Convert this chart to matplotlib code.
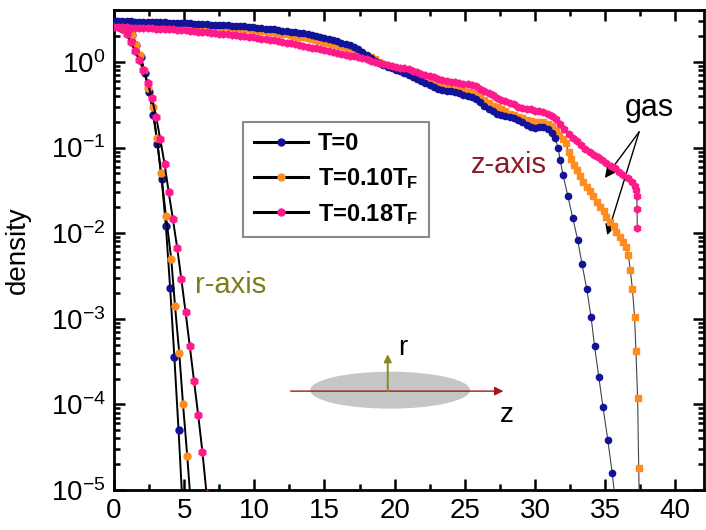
import numpy as np
import matplotlib
matplotlib.use("Agg")
import matplotlib.pyplot as plt
from matplotlib.lines import Line2D
from matplotlib.patches import Ellipse
from matplotlib.ticker import LogLocator, MultipleLocator, NullFormatter

plt.rcParams['font.family'] = ['Liberation Sans', 'DejaVu Sans']
plt.rcParams['mathtext.fontset'] = 'custom'
plt.rcParams['mathtext.rm'] = 'Liberation Sans'
plt.rcParams['mathtext.it'] = 'Liberation Sans:italic'
plt.rcParams['mathtext.bf'] = 'Liberation Sans:bold'

BLUE = "#13139a"
ORANGE = "#ff8c1e"
PINK = "#ff1a8c"

# === z-axis profiles: body on a 0.3 grid, then the tail points ===
z_body = np.round(np.arange(105) * 0.3, 1)

blue_body = [
    3.02, 3.01, 3.0, 2.99, 2.98, 2.97, 2.96, 2.95, 2.94, 2.93, 2.92,
    2.91, 2.9, 2.89, 2.88, 2.87, 2.86, 2.84, 2.83, 2.81, 2.79,
    2.77, 2.76, 2.74, 2.73, 2.71, 2.7, 2.68, 2.66, 2.64, 2.62,
    2.6, 2.58, 2.55, 2.52, 2.49, 2.46, 2.43, 2.4, 2.36, 2.33,
    2.3, 2.27, 2.24, 2.2, 2.16, 2.12, 2.07, 2.02, 1.97, 1.92,
    1.86, 1.8, 1.74, 1.68, 1.62, 1.56, 1.48, 1.4, 1.3, 1.2,
    1.12, 1.04, 0.97, 0.92, 0.88, 0.85, 0.81, 0.78, 0.75, 0.71,
    0.67, 0.64, 0.6, 0.57, 0.54, 0.51, 0.49, 0.47, 0.46, 0.455,
    0.45, 0.43, 0.41, 0.4, 0.385, 0.365, 0.34, 0.31, 0.285, 0.265,
    0.25, 0.24, 0.235, 0.23, 0.22, 0.21, 0.2, 0.185, 0.175, 0.17,
    0.172, 0.175, 0.165, 0.148]
blue_tail_z = [31.45, 31.65, 31.8, 32.0, 32.35, 32.7, 33.05, 33.35, 33.7, 34.0,
               34.25, 34.55, 34.85, 35.2, 35.5, 35.8]
blue_tail = [0.13, 0.099, 0.072, 0.048, 0.027, 0.015, 0.0083, 0.0044, 0.0022, 0.00105,
             0.00048, 0.00021, 9.3e-5, 3.8e-5, 1.6e-5, 6e-6]

orange_body = [
    2.92, 2.92, 2.91, 2.9, 2.9, 2.89, 2.88, 2.87, 2.86, 2.85, 2.84,
    2.83, 2.82, 2.81, 2.8, 2.78, 2.77, 2.76, 2.74, 2.72, 2.7,
    2.68, 2.66, 2.64, 2.62, 2.6, 2.58, 2.56, 2.54, 2.51, 2.48,
    2.45, 2.42, 2.39, 2.36, 2.33, 2.29, 2.26, 2.22, 2.18, 2.14,
    2.1, 2.06, 2.02, 1.98, 1.94, 1.9, 1.86, 1.82, 1.77, 1.72,
    1.67, 1.62, 1.57, 1.52, 1.47, 1.42, 1.37, 1.31, 1.25, 1.19,
    1.13, 1.07, 1.01, 0.96, 0.91, 0.87, 0.84, 0.8, 0.77, 0.74,
    0.71, 0.68, 0.65, 0.62, 0.6, 0.58, 0.56, 0.54, 0.52, 0.505,
    0.49, 0.48, 0.46, 0.45, 0.43, 0.41, 0.39, 0.36, 0.335, 0.31,
    0.295, 0.28, 0.265, 0.25, 0.24, 0.23, 0.22, 0.21, 0.205, 0.2,
    0.2, 0.198, 0.19, 0.178]
orange_tail_z = [31.5, 31.75, 32.0, 32.2, 32.4, 32.55, 32.75, 33.0, 33.2, 33.45,
                 33.7, 33.9, 34.15, 34.4, 34.65, 34.9, 35.1, 35.35, 35.6, 35.8,
                 36.05, 36.3, 36.5, 36.65, 36.8, 36.95, 37.1, 37.2, 37.32, 37.4,
                 37.45]
orange_tail = [0.162, 0.14, 0.125, 0.112, 0.089, 0.074, 0.063, 0.055, 0.046, 0.040,
               0.035, 0.031, 0.027, 0.023, 0.020, 0.018, 0.0155, 0.0136, 0.012, 0.0104,
               0.009, 0.0079, 0.0069, 0.0056, 0.0037, 0.0022, 0.00106, 0.00042, 0.000118, 1.8e-5,
               5e-6]

pink_body = [
    2.55, 2.55, 2.54, 2.53, 2.52, 2.51, 2.5, 2.49, 2.48, 2.47, 2.46,
    2.44, 2.43, 2.41, 2.4, 2.38, 2.36, 2.34, 2.32, 2.3, 2.27,
    2.25, 2.23, 2.2, 2.18, 2.15, 2.13, 2.1, 2.08, 2.05, 2.02,
    2.0, 1.97, 1.94, 1.91, 1.88, 1.85, 1.82, 1.79, 1.75, 1.72,
    1.68, 1.65, 1.61, 1.58, 1.54, 1.51, 1.47, 1.44, 1.4, 1.37,
    1.34, 1.31, 1.28, 1.25, 1.22, 1.19, 1.16, 1.13, 1.1, 1.07,
    1.04, 1.01, 0.98, 0.95, 0.93, 0.9, 0.88, 0.86, 0.84, 0.82,
    0.79, 0.76, 0.73, 0.7, 0.68, 0.66, 0.64, 0.62, 0.6, 0.59,
    0.58, 0.57, 0.56, 0.55, 0.54, 0.52, 0.49, 0.46, 0.43, 0.41,
    0.38, 0.36, 0.35, 0.33, 0.32, 0.3, 0.29, 0.285, 0.28, 0.27,
    0.265, 0.26, 0.25, 0.235]
pink_tail_z = [31.5, 31.8, 32.1, 32.4, 32.7, 33.0, 33.3, 33.6, 33.9, 34.2,
               34.5, 34.8, 35.1, 35.4, 35.7, 36.0, 36.3, 36.6, 36.9, 37.1,
               37.22, 37.26, 37.28, 37.3]
pink_tail = [0.215, 0.19, 0.163, 0.143, 0.13, 0.118, 0.107, 0.097, 0.09, 0.083,
             0.077, 0.071, 0.066, 0.061, 0.057, 0.052, 0.048, 0.044, 0.04, 0.036,
             0.032, 0.027, 0.019, 0.0114]

# === r-axis profiles ===
blue_r = [0.1, 0.4, 0.7, 1.0, 1.3, 1.6, 1.9, 2.2, 2.5, 2.8, 3.1, 3.4, 3.7, 4.0, 4.3, 4.6, 4.9]
blue_rn = [3.0, 2.92, 2.75, 2.45, 2.05, 1.6, 1.15, 0.75, 0.45, 0.24, 0.11, 0.043, 0.012,
           0.0023, 0.00036, 5e-5, 6e-6]
orange_r = [0.05, 0.35, 0.65, 0.95, 1.25, 1.55, 1.85, 2.15, 2.45, 2.75, 3.05, 3.35, 3.7,
            4.08, 4.35, 4.65, 4.92, 5.22, 5.5]
orange_rn = [2.9, 2.85, 2.7, 2.4, 2.05, 1.6, 1.2, 0.8, 0.5, 0.3, 0.13, 0.05, 0.016,
             0.005, 0.0014, 0.0004, 0.0001, 2.5e-5, 6e-6]
pink_r = [0.0, 0.3, 0.6, 0.9, 1.2, 1.5, 1.8, 2.1, 2.4, 2.7, 3.0, 3.3, 3.6, 3.9, 4.2, 4.5,
          4.8, 5.1, 5.4, 5.7, 6.0, 6.3, 6.6]
pink_rn = [2.6, 2.55, 2.4, 2.1, 1.7, 1.35, 1.05, 0.8, 0.57, 0.38, 0.23, 0.125, 0.065, 0.03,
           0.0145, 0.0068, 0.0029, 0.0012, 0.00048, 0.00019, 7.5e-5, 2.8e-5, 8.9e-6]

labels = ["T=0", r"T=0.10T$_\mathbf{F}$", r"T=0.18T$_\mathbf{F}$"]

fig = plt.figure(figsize=(7.06, 5.30), dpi=100)
ax = fig.add_axes([114 / 706, 40 / 530, 590 / 706, 480 / 530])

# radial cuts
ax.plot(blue_r, blue_rn, color="black", lw=1.4, marker="o", ms=5, mfc=BLUE, mec=BLUE, zorder=3)
ax.plot(orange_r, orange_rn, color="black", lw=1.4, marker="o", ms=5, mfc=ORANGE, mec=ORANGE, zorder=3)
ax.plot(pink_r, pink_rn, color="black", lw=1.4, marker="h", ms=5.5, mfc=PINK, mec=PINK, zorder=3)

# axial cuts
ax.plot(list(z_body) + orange_tail_z, orange_body + orange_tail, color="#444444", lw=0.8,
        marker="s", ms=4.2, mfc=ORANGE, mec=ORANGE, zorder=4)
ax.plot(list(z_body) + blue_tail_z, blue_body + blue_tail, color="#444444", lw=0.8,
        marker="o", ms=4.5, mfc=BLUE, mec=BLUE, zorder=5)
ax.plot(list(z_body) + pink_tail_z, pink_body + pink_tail, color="#444444", lw=0.8,
        marker="h", ms=5, mfc=PINK, mec=PINK, zorder=6)

ax.set_yscale("log")
ax.set_xlim(0, 42.05)
ax.set_ylim(1e-5, 4.05)
ax.set_xticks(np.arange(0, 41, 5))
ax.xaxis.set_minor_locator(MultipleLocator(2.5))
ax.yaxis.set_major_locator(LogLocator(base=10, numticks=10))
ax.yaxis.set_minor_locator(LogLocator(base=10, subs=np.arange(2, 10), numticks=20))
ax.yaxis.set_minor_formatter(NullFormatter())
ax.tick_params(which="both", direction="in", top=True, right=True, width=1.8, labelsize=20)
ax.tick_params(which="major", length=8, pad=6)
ax.tick_params(which="minor", length=4.5)
for s in ax.spines.values():
    s.set_linewidth(2)
ax.set_ylabel("density", fontsize=20, labelpad=14)

handles = [Line2D([], [], color="black", lw=2.2, marker="o", ms=5, mfc=c, mec=c)
           for c in (BLUE, ORANGE, PINK)]
leg = ax.legend(handles, labels, loc="upper left", bbox_to_anchor=(0.219, 0.767),
                borderaxespad=0, fancybox=False, framealpha=1, edgecolor="#8a8a8a",
                prop={"size": 17, "weight": "bold"}, handlelength=2.3, handletextpad=0.4,
                labelspacing=0.45, borderpad=0.45)
leg.get_frame().set_linewidth(1.5)
leg.set_zorder(10)

ax.text(0.669, 0.677, "z-axis", transform=ax.transAxes, fontsize=21, color="#8b1c24",
        ha="center", va="center")
ax.text(0.197, 0.427, "r-axis", transform=ax.transAxes, fontsize=21, color="#7d7d1e",
        ha="center", va="center")
ax.text(0.908, 0.796, "gas", transform=ax.transAxes, fontsize=22, ha="center", va="center")
for tip in [(0.832, 0.650), (0.836, 0.531)]:
    ax.annotate("", xy=tip, xycoords="axes fraction", xytext=(0.89, 0.746),
                textcoords="axes fraction",
                arrowprops=dict(arrowstyle="-|>", color="black", lw=1.0,
                                mutation_scale=16, shrinkA=0, shrinkB=0))

# cloud sketch with r and z directions
ax.add_patch(Ellipse((0.468, 0.208), 0.271, 0.077, transform=ax.transAxes,
                     facecolor="#c6c6c6", edgecolor="none", zorder=1))
ax.annotate("", xy=(0.66, 0.206), xycoords="axes fraction", xytext=(0.2995, 0.206),
            arrowprops=dict(arrowstyle="-|>", color="#a01818", lw=1.0,
                            mutation_scale=13, shrinkA=0, shrinkB=0))
ax.annotate("", xy=(0.464, 0.283), xycoords="axes fraction", xytext=(0.464, 0.206),
            arrowprops=dict(arrowstyle="-|>", color="#8a8a20", lw=1.4,
                            mutation_scale=11, shrinkA=0, shrinkB=0))
ax.text(0.49, 0.296, "r", transform=ax.transAxes, fontsize=20, ha="center", va="center")
ax.text(0.666, 0.156, "z", transform=ax.transAxes, fontsize=20, ha="center", va="center")

fig.savefig("out.png", dpi=100)
